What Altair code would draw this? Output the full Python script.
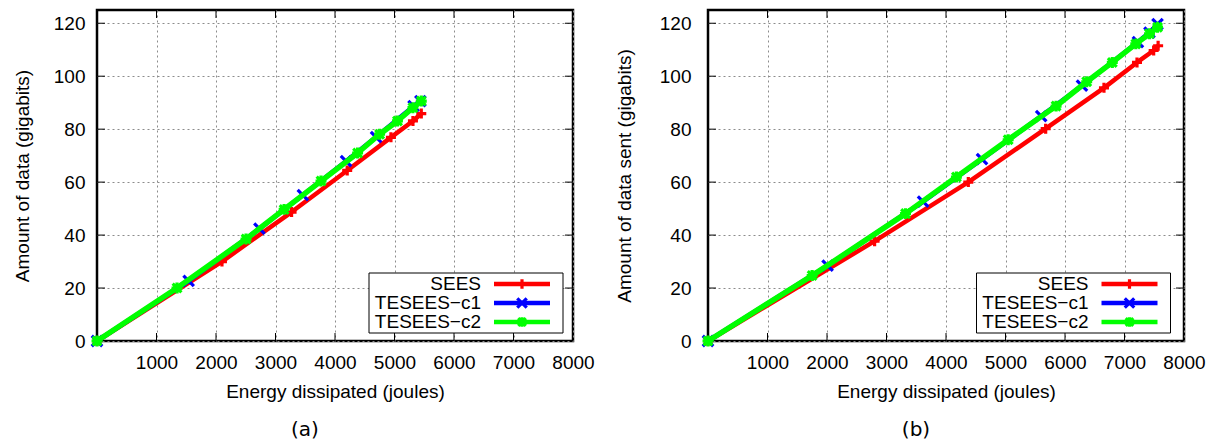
import altair as alt
import pandas as pd

series = ["SEES", "TESEES\u2212c1", "TESEES\u2212c2"]
colors = ["#ff0000", "#0000ff", "#00ff00"]

# panel (a)
a_sees_x = [0, 2100, 3270, 4205, 4940, 5310, 5450]
a_sees_y = [0, 30.0, 48.7, 64.4, 76.9, 83.1, 85.9]
a_c1_x = [0, 1540, 2730, 3460, 4185, 4690, 5320, 5435]
a_c1_y = [0, 22.7, 42.4, 55.1, 67.9, 77.0, 88.7, 90.6]
a_c2_x = [0, 1345, 2505, 3145, 3765, 4380, 4750, 5050, 5310, 5450]
a_c2_y = [0, 20.0, 38.5, 49.7, 60.4, 71.0, 78.1, 83.1, 88.1, 90.6]

# panel (b)
b_sees_x = [0, 2800, 4375, 5675, 6655, 7210, 7490, 7565]
b_sees_y = [0, 37.7, 60.0, 80.2, 95.6, 105.2, 109.7, 111.5]
b_c1_x = [0, 2010, 3615, 4605, 5600, 6285, 7225, 7420, 7555]
b_c1_y = [0, 28.5, 52.6, 68.7, 84.9, 96.4, 112.9, 116.5, 119.7]
b_c2_x = [0, 1750, 3320, 4175, 5045, 5850, 6365, 6795, 7190, 7420, 7555]
b_c2_y = [0, 24.7, 48.1, 61.9, 76.0, 88.7, 97.9, 105.2, 112.2, 116.0, 118.5]

x_ticks = [1000, 2000, 3000, 4000, 5000, 6000, 7000, 8000]
y_ticks = [0, 20, 40, 60, 80, 100, 120]

x_title = "Energy dissipated (joules)"
y_title_a = "Amount of data (gigabits)"
y_title_b = "Amount of data sent (gigabits)"

W, H = 476, 331
FONT = "Liberation Sans"
FS = 19

shapes = [
    "M-1,0L1,0M0,-1L0,1",
    "M-1,-1L1,1M-1,1L1,-1",
    "M-1,0L1,0M0,-1L0,1M-0.8,-0.8L0.8,0.8M-0.8,0.8L0.8,-0.8",
]
line_w = [4.5, 4.5, 5.5]
pt_size = [100, 110, 120]

xscale = alt.Scale(domain=[0, 8000], nice=False, zero=False)
yscale = alt.Scale(domain=[0, 125], nice=False, zero=False)


def panel(xs, ys, ytitle, caption, label_pad_y, title_pad_y, leg_off, cap_dx):
    layers = []
    xaxis = alt.Axis(values=x_ticks, format="d", title=x_title, grid=True, gridDash=[2, 3],
                     gridColor="#8c8c8c", gridWidth=1, ticks=False, domain=False,
                     labelFont=FONT, labelFontSize=FS, labelColor="black",
                     labelPadding=12, labelFlush=False, titleFont=FONT,
                     titleFontSize=FS, titleFontWeight="normal", titleColor="black",
                     titlePadding=10)
    yaxis = alt.Axis(values=y_ticks, format="d", title=ytitle, grid=True, gridDash=[2, 3],
                     gridColor="#8c8c8c", gridWidth=1, ticks=False, domain=False,
                     labelFont=FONT, labelFontSize=FS, labelColor="black",
                     labelPadding=label_pad_y, labelFlush=False, titleFont=FONT,
                     titleFontSize=FS, titleFontWeight="normal", titleColor="black",
                     titlePadding=title_pad_y)
    X = lambda f: alt.X(f, scale=xscale, axis=xaxis)
    Y = lambda f: alt.Y(f, scale=yscale, axis=yaxis)

    # inward tick marks (mirror on all sides)
    xt = pd.DataFrame({"v": x_ticks[:-1]})
    yt = pd.DataFrame({"v": y_ticks[1:]})
    layers.append(alt.Chart(xt).mark_rule(color="black", strokeWidth=1).encode(
        x=X("v:Q"), y=alt.value(H), y2=alt.value(H - 8)))
    layers.append(alt.Chart(xt).mark_rule(color="black", strokeWidth=1).encode(
        x=X("v:Q"), y=alt.value(0), y2=alt.value(8)))
    layers.append(alt.Chart(yt).mark_rule(color="black", strokeWidth=1).encode(
        y=Y("v:Q"), x=alt.value(0), x2=alt.value(8)))
    layers.append(alt.Chart(yt).mark_rule(color="black", strokeWidth=1).encode(
        y=Y("v:Q"), x=alt.value(W - 8), x2=alt.value(W)))

    for i in range(3):
        df = pd.DataFrame({"v": xs[i], "w": ys[i]})
        c = alt.Chart(df)
        layers.append(c.mark_line(color=colors[i], strokeWidth=line_w[i], strokeJoin="round").encode(
            x=X("v:Q"), y=Y("w:Q")))
        layers.append(c.mark_point(shape=shapes[i], filled=False, color=colors[i],
                                   strokeWidth=3.2, size=pt_size[i], opacity=1).encode(
            x=X("v:Q"), y=Y("w:Q")))

    # key box
    one = pd.DataFrame({"k": [0]})
    layers.append(alt.Chart(one).mark_rect(fill="white", stroke="black", strokeWidth=1).encode(
        x=alt.value(272 + leg_off), x2=alt.value(466 + leg_off),
        y=alt.value(263), y2=alt.value(323)))
    rows = [274, 293, 312]
    for i in range(3):
        d = pd.DataFrame({"name": [series[i]]})
        c = alt.Chart(d)
        layers.append(c.mark_text(align="right", baseline="middle", font=FONT,
                                  fontSize=FS, color="black").encode(
            text="name:N", x=alt.value(384 + leg_off), y=alt.value(rows[i])))
        layers.append(c.mark_rule(color=colors[i], strokeWidth=4.5).encode(
            x=alt.value(397 + leg_off), x2=alt.value(453 + leg_off), y=alt.value(rows[i])))
        layers.append(c.mark_point(shape=shapes[i], filled=False, color=colors[i],
                                   strokeWidth=3.2, size=90, opacity=1).encode(
            x=alt.value(425 + leg_off), y=alt.value(rows[i])))

    return alt.layer(*layers).properties(
        width=W, height=H,
        title=alt.TitleParams(caption, orient="bottom", font="DejaVu Sans", fontSize=20,
                              fontWeight="normal", color="black", offset=19, dx=cap_dx))


pa = panel([a_sees_x, a_c1_x, a_c2_x], [a_sees_y, a_c1_y, a_c2_y], y_title_a, "(a)",
           12, 21, 0, -30)
pb = panel([b_sees_x, b_c1_x, b_c2_x], [b_sees_y, b_c1_y, b_c2_y], y_title_b, "(b)",
           17, 25, -3.5, -30)

chart = alt.hconcat(pa, pb, spacing=18).properties(
    padding={"left": 4, "top": 0, "right": 0, "bottom": 0}
).configure(font=FONT).configure_view(stroke="black", strokeWidth=2.5)

chart.save("out.html", embed_options={"renderer": "svg", "actions": False})
